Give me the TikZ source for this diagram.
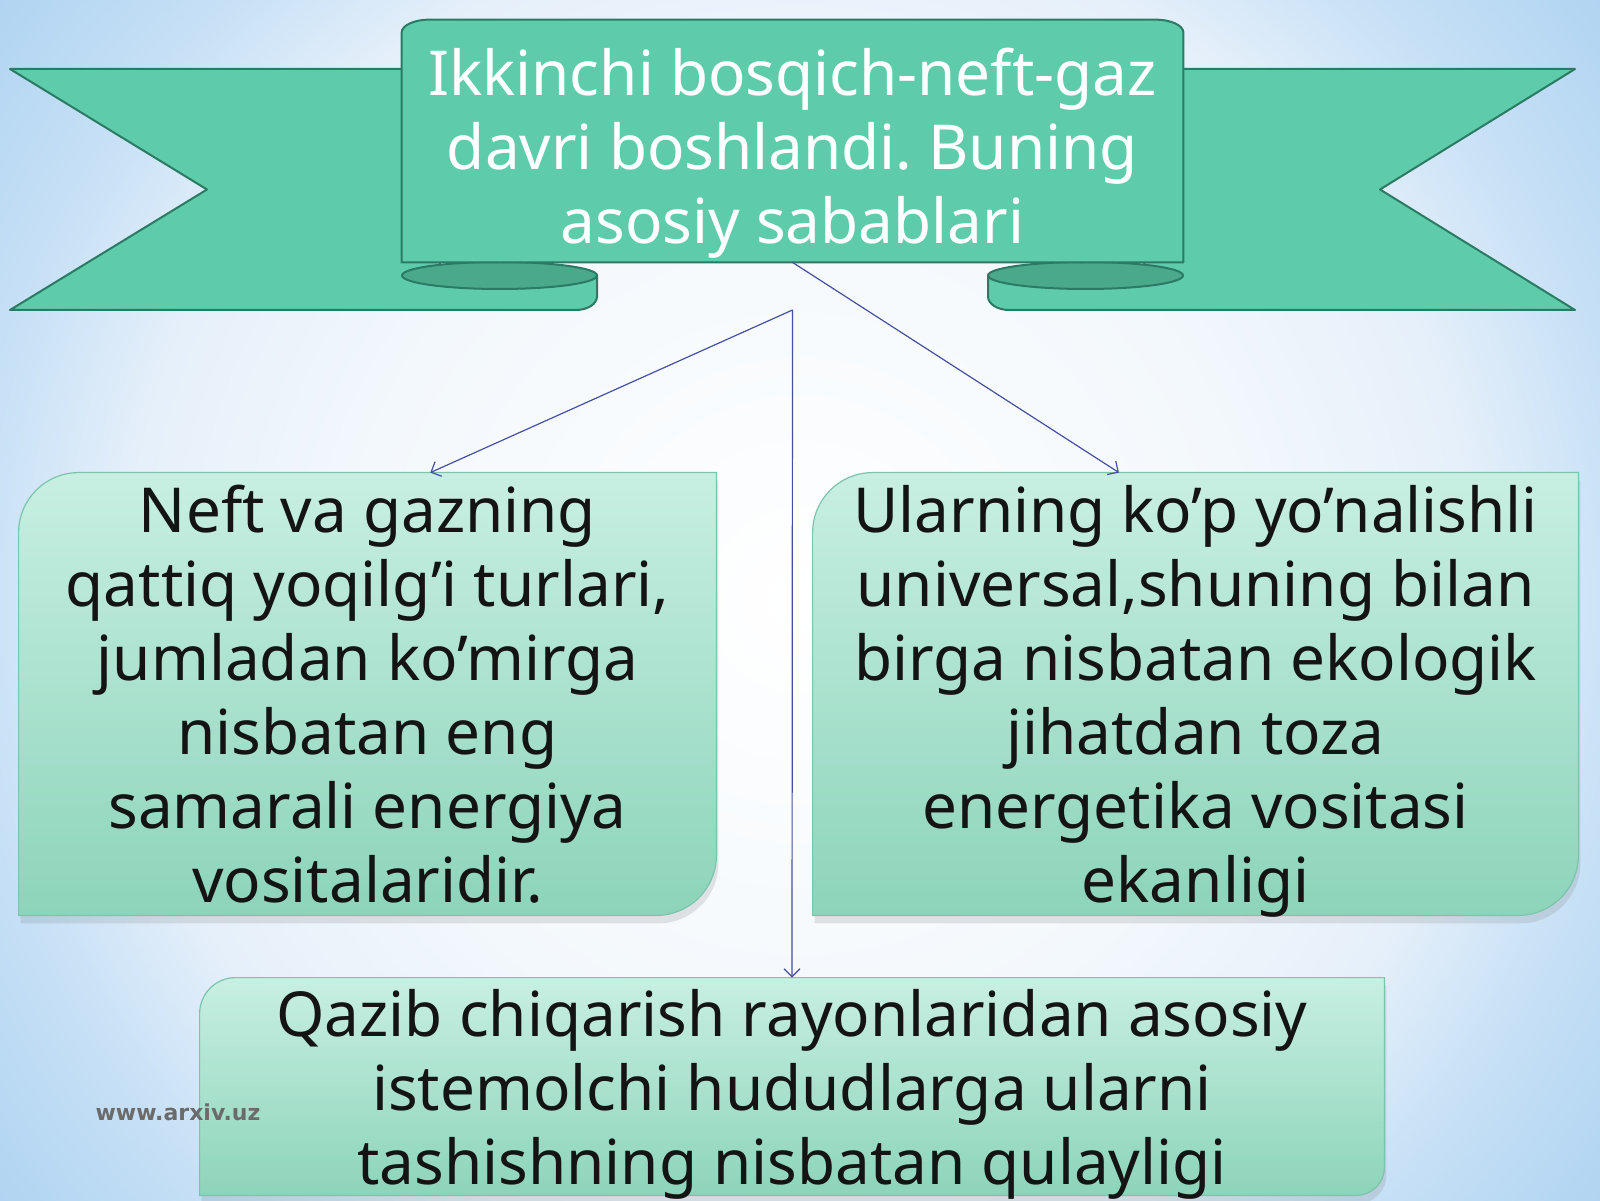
\documentclass[tikz,border=0pt]{standalone}
\usepackage{fontspec}
\setmainfont{Noto Sans}
\newfontfamily\siteFont{DejaVu Sans}
\usepackage{tikz}
\usetikzlibrary{positioning, calc, shadows, arrows.meta}
\pgfdeclarelayer{background}
\pgfsetlayers{background,main}
\frenchspacing
\definecolor{bgPale}{HTML}{F3F8FC}
\definecolor{bgMid}{HTML}{E6F0FA}
\definecolor{bgBlue}{HTML}{C6E0F6}
\definecolor{bgDeep}{HTML}{AAD0F0}
\definecolor{ribbonFill}{HTML}{5ECCAB}
\definecolor{ribbonEdge}{HTML}{2B7A64}
\definecolor{ribbonFold}{HTML}{4AA88B}
\definecolor{boxTop}{HTML}{C8EFE2}
\definecolor{boxBottom}{HTML}{8CD4BA}
\definecolor{boxEdge}{HTML}{7CC4AC}
\definecolor{arrowBlue}{HTML}{4650A0}
\pgfdeclareradialshading{bgGlow}{\pgfpoint{0bp}{0bp}}{color(0bp)=(white); color(14bp)=(bgPale); color(21bp)=(bgMid); color(26bp)=(bgBlue); color(33bp)=(bgDeep); color(50bp)=(bgDeep)}
\newcommand{\reasonFont}{\fontsize{31}{37}\selectfont}
\tikzstyle{ribbon}=[fill=ribbonFill, draw=ribbonEdge, line width=1pt, line join=round]
\tikzstyle{ribbonFoldIn}=[fill=ribbonFold, draw=ribbonEdge, line width=1pt]
\tikzstyle{titleBox}=[minimum width=390.5pt, minimum height=121pt, inner sep=0pt, align=center, text=white, font=\reasonFont]
\tikzstyle{reasonBox}=[inner sep=0pt, align=center, text=black!92, font=\reasonFont]
\tikzstyle{reasonFill}=[top color=boxTop, bottom color=boxBottom, draw=boxEdge, line width=0.6pt, drop shadow={shadow xshift=1pt, shadow yshift=-4pt, opacity=0.2}]
\tikzstyle{arrow}=[-{Straight Barb[length=4pt,width=8pt]}, draw=arrowBlue, line width=0.6pt]
\tikzstyle{siteLabel}=[text=black!58, font=\siteFont\fontsize{11}{13}\selectfont\bfseries]
% box with two rounded corners (top left, bottom right)
\newcommand\reasonShape{}
\def\reasonShape(#1)#2#3{%
  \path[reasonFill] (#1.south west) -- ([yshift=-#2]#1.north west)
    arc[start angle=180, end angle=90, radius=#2]
    -- (#1.north east) -- ([yshift=#3]#1.south east)
    arc[start angle=0, end angle=-90, radius=#3] -- cycle;
}

\begin{document}
\begin{tikzpicture}[x=1pt, y=1pt]
  \useasboundingbox (0,0) rectangle (800,600);
  \node[titleBox] (title) at (396.25,529.5)
    {\rule{0pt}{29pt}Ikkinchi bosqich-neft-gaz\\davri boshlandi. Buning\\\smash{asosiy sabablari}};
  \node[reasonBox, minimum width=348.5pt, minimum height=221pt] (neftReason) at (183.75,253)
    {Neft va gazning\\qattiq yoqilg’i turlari,\\jumladan ko’mirga\\nisbatan eng \\samarali energiya\\vositalaridir.};
  \node[reasonBox, minimum width=382.5pt, minimum height=221pt] (usageReason) at (597.75,253)
    {Ularning ko’p yo’nalishli\\universal,shuning bilan\\birga nisbatan ekologik\\jihatdan toza\\energetika vositasi\\\smash{ekanligi}};
  \node[reasonBox, minimum width=592pt, minimum height=108.5pt] (transportReason) at (396,56.75)
    {Qazib chiqarish rayonlaridan asosiy\\istemolchi hududlarga ularni\\\smash{tashishning nisbatan qulayligi}};
  \coordinate (fork) at (396.25,445);

  \draw[arrow] (title.south) -- ($(usageReason.north west)!0.4!(usageReason.north east)$);
  \draw[arrow] (fork) -- ($(neftReason.north west)!0.59!(neftReason.north east)$);
  \draw[arrow] (fork) -- (transportReason.north);

  \node[siteLabel] (site) at (89,44) {www.arxiv.uz};

  \begin{pgfonlayer}{background}
    \shade[shading=bgGlow] (0,-100) rectangle (800,700);
    % ribbon tails
    \path[ribbon] (5,565.5) -- (220,565.5) -- (220,445) -- (5,445) -- (103.5,505.25) -- cycle;
    \path[ribbon] (787.5,565.5) -- (572,565.5) -- (572,445) -- (787.5,445) -- (690,505.25) -- cycle;
    % folds under the panel
    \path[ribbon] (210,445) -- (288,445) arc[start angle=-90, end angle=0, x radius=10.5pt, y radius=6.75pt]
      -- (298.5,462.25) -- (210,462.25);
    \path[ribbon] (582,445) -- (504.5,445) arc[start angle=270, end angle=180, x radius=10.5pt, y radius=6.75pt]
      -- (494,462.25) -- (582,462.25);
    \path[ribbonFoldIn] (249.75,462.25) ellipse[x radius=48.75pt, y radius=6.75pt];
    \path[ribbonFoldIn] (542.75,462.25) ellipse[x radius=48.75pt, y radius=6.75pt];
    % front panel
    \path[ribbon] (title.south west) -- ([yshift=-6.5pt]title.north west)
      arc[start angle=180, end angle=90, x radius=14pt, y radius=6.5pt]
      -- ([xshift=-14pt]title.north east)
      arc[start angle=90, end angle=0, x radius=14pt, y radius=6.5pt]
      -- (title.south east) -- cycle;
    % reason boxes
    \reasonShape(neftReason){30pt}{30pt}
    \reasonShape(usageReason){30pt}{30pt}
    \reasonShape(transportReason){18pt}{14pt}
  \end{pgfonlayer}
\end{tikzpicture}
\end{document}
